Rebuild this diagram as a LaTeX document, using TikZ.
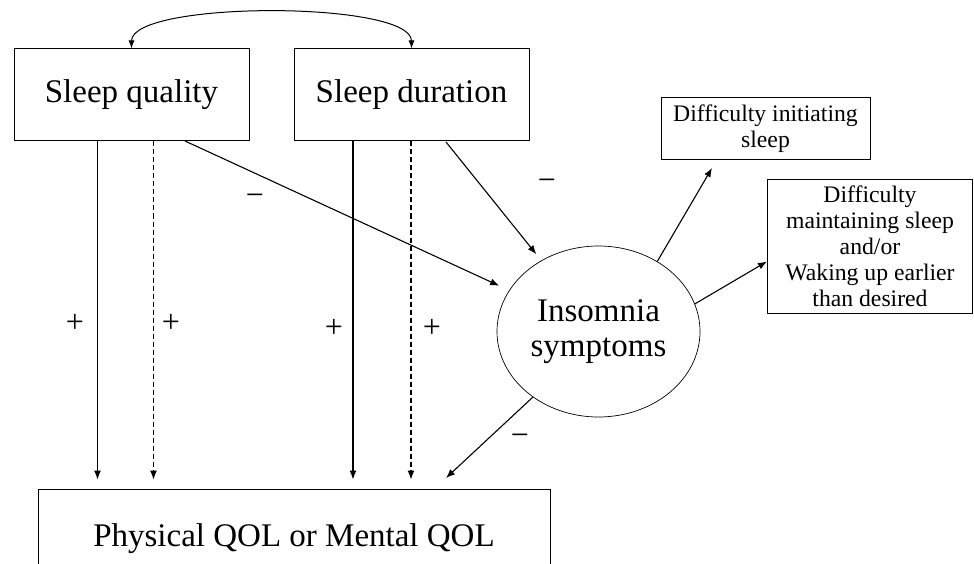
\documentclass[tikz,border=0pt]{standalone}
\usepackage{fontspec}
\setmainfont{Liberation Serif}
\usetikzlibrary{shapes.geometric,arrows.meta}

\tikzset{
    box/.style={draw, line width=1pt, inner sep=0pt, align=center},
    bigtext/.style={font=\fontsize{33}{35}\selectfont},
    smalltext/.style={font=\fontsize{23.7}{26}\selectfont},
    sign/.style={font=\fontsize{32}{34}\selectfont, inner sep=0pt},
    link/.style={-{Latex[length=9pt,width=7pt]}, line width=1.1pt},
    dashlink/.style={link, dash pattern=on 5pt off 3pt},
}

\begin{document}
\begin{tikzpicture}[x=1pt, y=-1pt]
    \clip (0,0) rectangle (974,564);

    %% Sleep and quality of life

    % Predictors
    \node[box, bigtext, minimum width=235pt, minimum height=92pt] (quality) at (131.5,95) {Sleep quality};
    \node[box, bigtext, minimum width=235pt, minimum height=92pt] (duration) at (411.5,95) {Sleep duration};
    \draw[{Latex[length=8pt,width=6pt]}-{Latex[length=8pt,width=6pt]}, line width=1pt]
        (quality.north) .. controls +(0,-48) and +(0,-48) .. (duration.north);

    % Insomnia and its symptoms
    \node[draw, ellipse, line width=0.7pt, inner sep=0pt, align=center, bigtext,
        minimum width=203pt, minimum height=171pt] (insom) at (598.5,331.5) {Insomnia\\symptoms};
    \node[box, smalltext, minimum width=209pt, minimum height=62pt] (initiate) at (765.5,129) {Difficulty initiating\\sleep};
    \node[box, smalltext, minimum width=205pt, minimum height=133pt] (maintain) at (870,246.5) {Difficulty\\maintaining sleep\\and/or\\Waking up earlier\\than desired};

    % Outcome
    \node[box, bigtext, minimum width=512pt, minimum height=100pt] (qol) at (294,539) {Physical QOL or Mental QOL};

    % Direct paths
    \coordinate (xa) at (97.5,0);
    \coordinate (xb) at (153.5,0);
    \coordinate (xc) at (353,0);
    \coordinate (xd) at (411,0);
    \draw[link, shorten >=9pt] (quality.south -| xa) -- (qol.north -| xa);
    \draw[dashlink, shorten >=9pt] (quality.south -| xb) -- (qol.north -| xb);
    \draw[link, shorten >=9pt] (duration.south -| xc) -- (qol.north -| xc);
    \draw[dashlink, shorten >=9pt] (duration.south -| xd) -- (qol.north -| xd);
    \node[sign] (pa) at (75,323) {+};
    \node[sign] (pb) at (171,323) {+};
    \node[sign] (pc) at (334,328) {+};
    \node[sign] (pd) at (432,328) {+};

    % Paths through insomnia
    \coordinate (qs) at (185,141);
    \coordinate (ds) at (446,142);
    \draw[link, shorten >=11pt] (qs) -- (insom);
    \draw[link, shorten >=8pt] (ds) -- (insom);
    \node[sign] (ma) at (255,200) {−};
    \node[sign] (mb) at (547,185) {−};

    \coordinate (ti) at (712,168);
    \coordinate (tm) at (767,261.5);
    \coordinate (tq) at (446,478);
    \draw[link] (insom.50) -- (ti);
    \draw[link] (insom.16) -- (tm);
    \draw[link] (insom.225) -- (tq);
    \node[sign] (mc) at (520,440) {−};

\end{tikzpicture}
\end{document}
